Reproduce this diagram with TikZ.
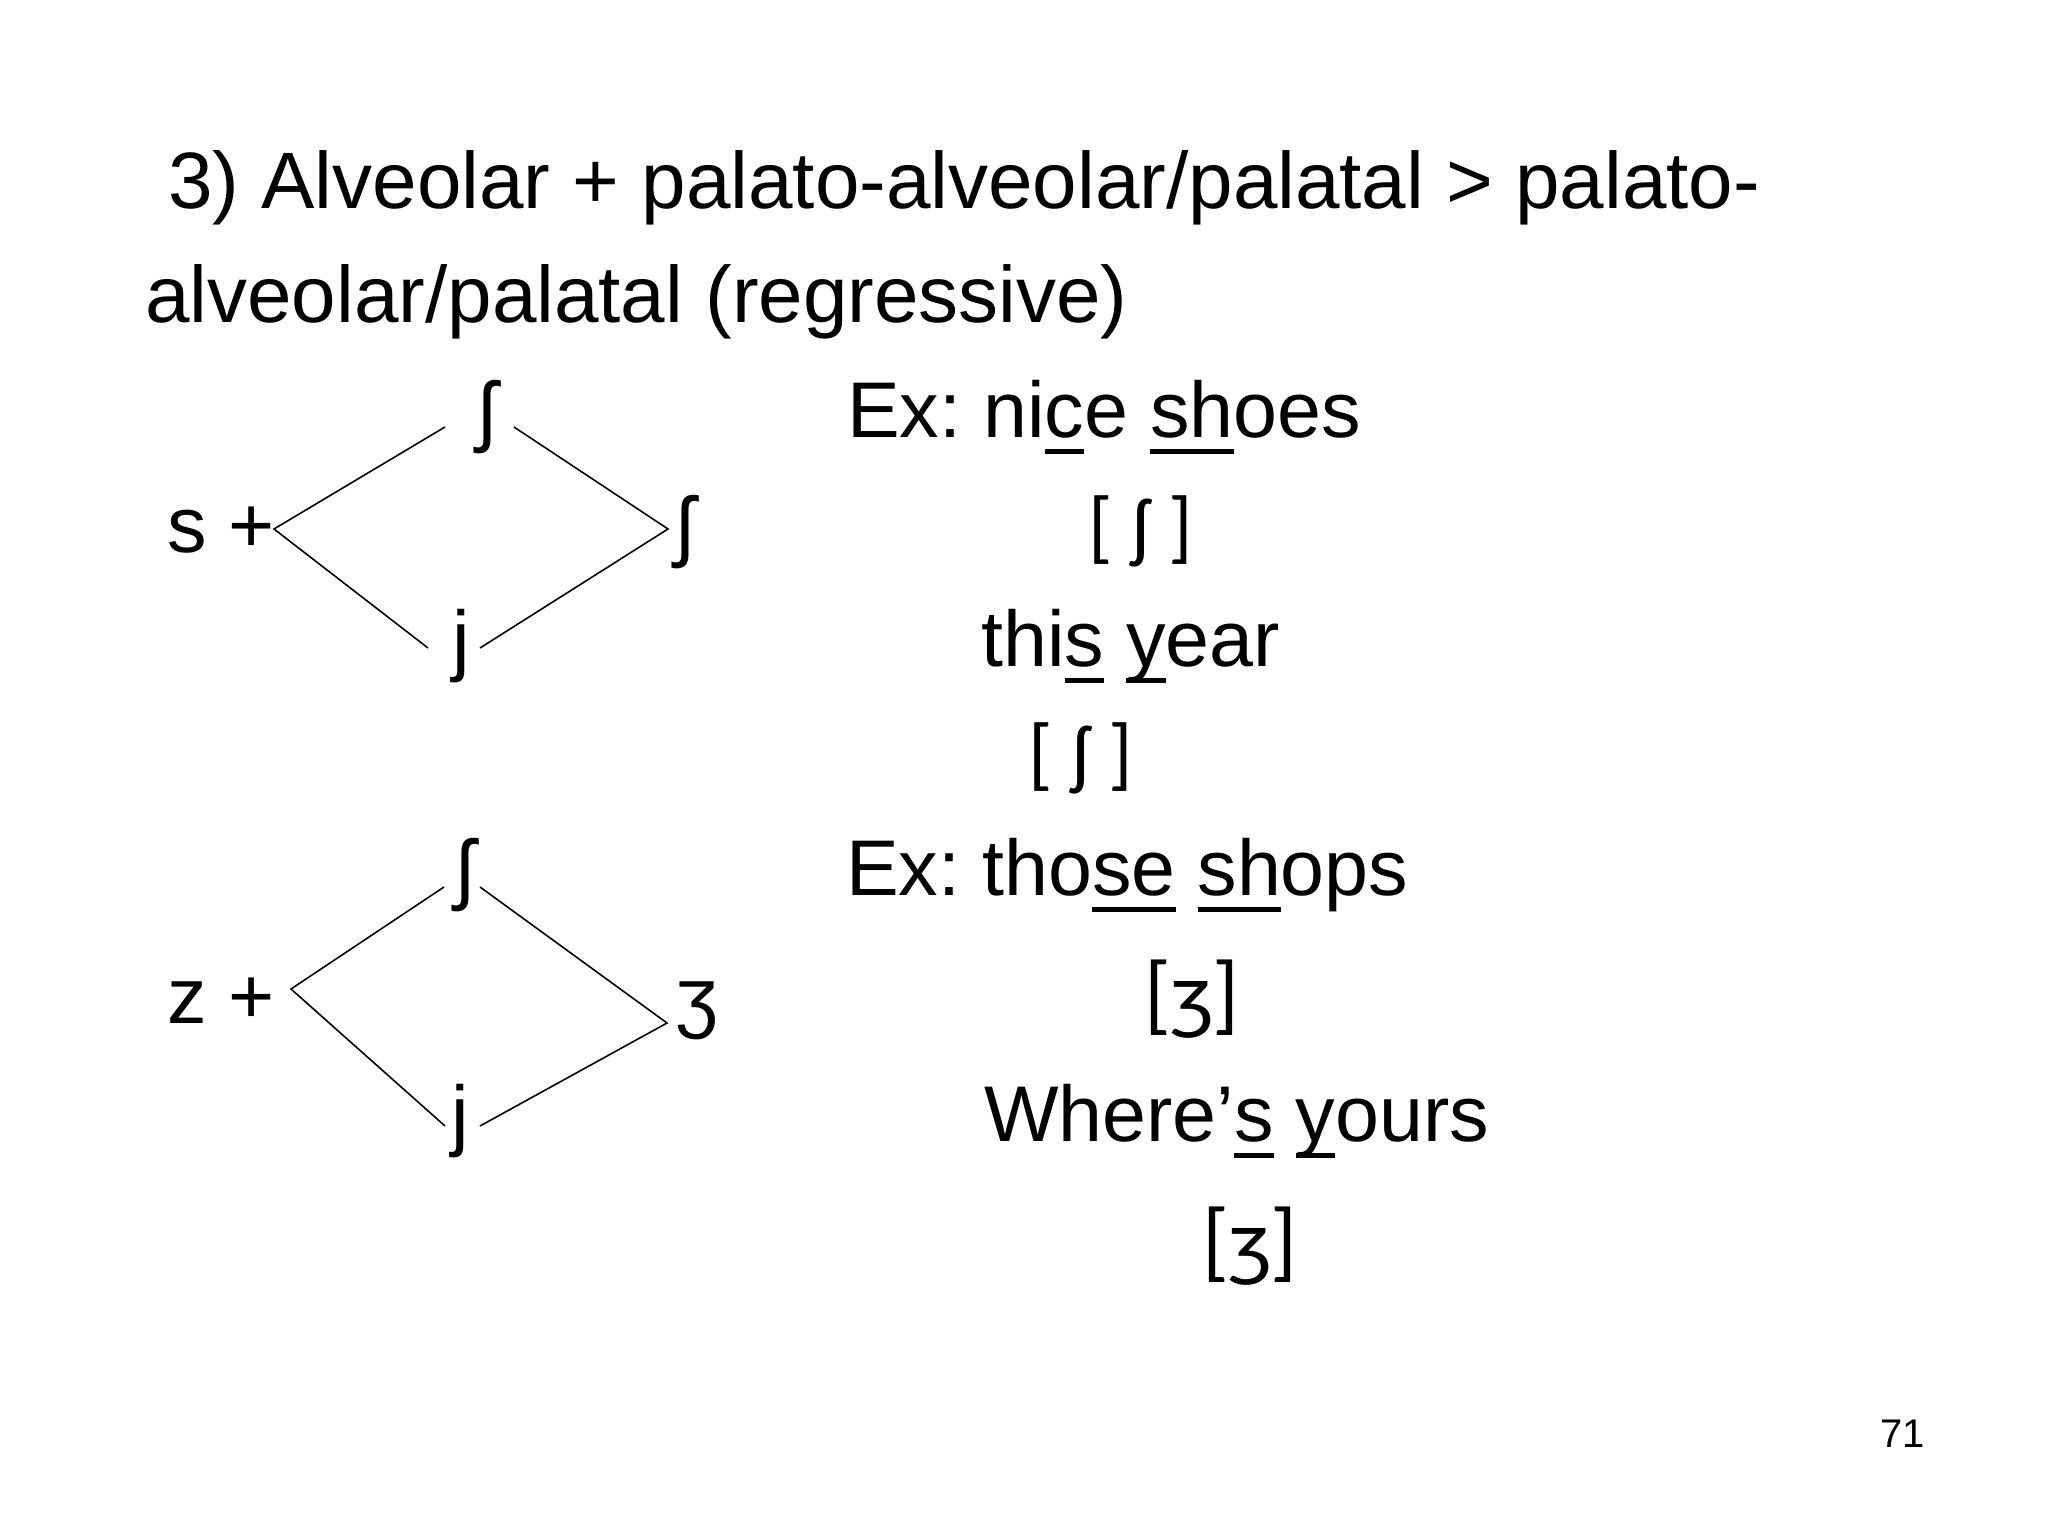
\documentclass[tikz,border=0pt]{standalone}
\usepackage{fontspec}
\setmainfont{Liberation Sans}
\newfontfamily\ipafont{Carlito}
\newcommand\ulx[1]{\setbox0\hbox{#1}\rlap{\rule[-17pt]{\wd0}{5pt}}\box0\relax}
\frenchspacing
\tikzset{
  txt/.style={inner sep=0pt, anchor=base west, font=\fontsize{79}{95}\selectfont},
  ttl/.style={inner sep=0pt, anchor=base west, font=\fontsize{80}{95}\selectfont},
  sym/.style={inner sep=0pt, anchor=base, font=\fontsize{79}{95}\selectfont},
  ipa/.style={inner sep=0pt, anchor=base, font=\fontsize{80}{95}\selectfont\ipafont},
  ipabig/.style={inner sep=0pt, anchor=base, font=\fontsize{88}{100}\selectfont\ipafont},
  link/.style={line width=1.6pt, black}
}
\begin{document}
\begin{tikzpicture}[x=1pt,y=-1pt]
\useasboundingbox (0,0) rectangle (2048,1536);
\fill[white] (0,0) rectangle (2048,1536);
% title
\node[ttl] (t1) at (168,208) {3) Alveolar + palato-alveolar/palatal > palato-};
\node[ttl] (t2) at (145,322) {alveolar/palatal (regressive)};
% diagram 1
\node[txt] (s) at (167,552) {s +};
\node[sym] (sh1) at (487,437) {ʃ};
\node[sym] (sh2) at (685,552) {ʃ};
\node[sym] (j1) at (461,666) {j};
\coordinate (a1) at (445,427);
\coordinate (v1) at (274,529);
\coordinate (a2) at (428,648);
\coordinate (b1) at (514,427);
\coordinate (w1) at (668,529);
\coordinate (b2) at (480,648);
\draw[link] (a1) -- (v1) -- (a2);
\draw[link] (b1) -- (w1) -- (b2);
% diagram 2
\node[txt] (z) at (167,1023) {z +};
\node[sym] (sh3) at (465,895) {ʃ};
\node[sym] (zh1) at (697,1023) {ʒ};
\node[sym] (j2) at (460,1141) {j};
\coordinate (c1) at (444,887);
\coordinate (v2) at (291,989);
\coordinate (c2) at (445,1126);
\coordinate (d1) at (480,887);
\coordinate (w2) at (667,1023);
\coordinate (d2) at (480,1126);
\draw[link] (c1) -- (v2) -- (c2);
\draw[link] (d1) -- (w2) -- (d2);
% examples
\node[txt] (e1) at (847,437) {Ex: ni\ulx{c}e \ulx{sh}oes};
\node[ipa] (p1) at (1141,553) {[ ʃ ]};
\node[txt] (e2) at (981,666) {thi\ulx{s} \ulx{y}ear};
\node[ipa] (p2) at (1081,780) {[ ʃ ]};
\node[txt] (e3) at (846,895) {Ex: tho\ulx{se} \ulx{sh}ops};
\node[ipabig] (p3) at (1192,1023) {[ʒ]};
\node[txt] (e4) at (984,1141) {Where’\ulx{s} \ulx{y}ours};
\node[ipabig] (p4) at (1250,1270) {[ʒ]};
% page number
\node[inner sep=0pt, anchor=base west, font=\fontsize{40}{48}\selectfont] (pg) at (1880,1447) {71};
\end{tikzpicture}
\end{document}
